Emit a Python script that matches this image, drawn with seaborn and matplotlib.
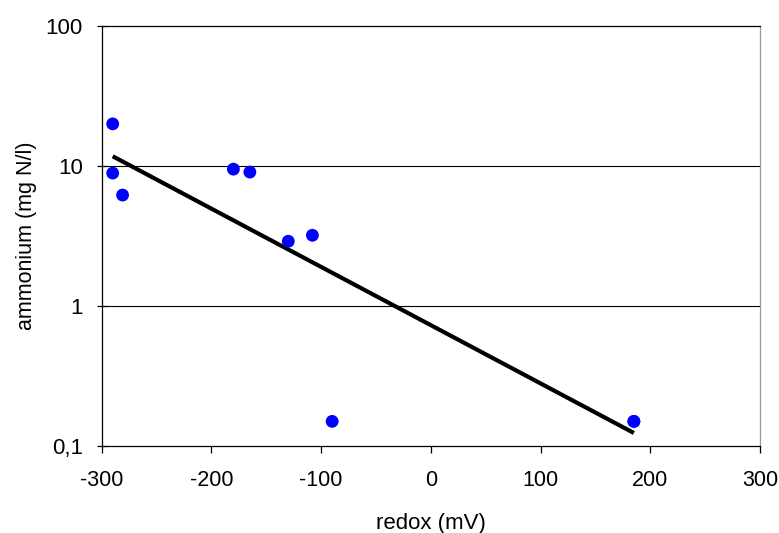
import numpy as np
import pandas as pd
import matplotlib
matplotlib.use("Agg")
import matplotlib.pyplot as plt
import seaborn as sns
from matplotlib.ticker import FixedLocator, FixedFormatter, NullLocator

# Data
redox_mv = [-290, -290, -281, -180, -165, -130, -108, -90, 185, 185]
ammonium_mg_n_l = [20.0, 8.9, 6.2, 9.5, 9.05, 2.9, 3.2, 0.15, 0.15, 0.15]

x_ticks = [-300, -200, -100, 0, 100, 200, 300]
x_tick_labels = ["-300", "-200", "-100", "0", "100", "200", "300"]
y_ticks = [0.1, 1, 10, 100]
y_tick_labels = ["0,1", "1", "10", "100"]

df = pd.DataFrame({"redox": redox_mv, "ammonium": ammonium_mg_n_l})

sns.set_theme(style="white")
plt.rcParams["font.family"] = ["Liberation Sans", "DejaVu Sans"]
plt.rcParams["text.color"] = "black"
plt.rcParams["axes.labelcolor"] = "black"
plt.rcParams["xtick.color"] = "black"
plt.rcParams["ytick.color"] = "black"

fig = plt.figure(figsize=(7.79, 5.33), dpi=100)
ax = fig.add_axes([0.1306, 0.1632, 0.8451, 0.7880])

# Exponential trendline (least squares on log values)
xs = np.asarray(redox_mv, dtype=float)
ly = np.log(np.asarray(ammonium_mg_n_l, dtype=float))
slope, intercept = np.polyfit(xs, ly, 1)
xl = np.array([xs.min(), xs.max()])
ax.plot(xl, np.exp(intercept + slope * xl), color="black", lw=3, zorder=3,
        solid_capstyle="butt")

sns.scatterplot(data=df, x="redox", y="ammonium", ax=ax, color="#0000FF",
                s=85, edgecolor="none", zorder=4, legend=False)

ax.set_yscale("log")
ax.set_xlim(-300, 300)
ax.set_ylim(0.1, 100)

ax.xaxis.set_major_locator(FixedLocator(x_ticks))
ax.xaxis.set_major_formatter(FixedFormatter(x_tick_labels))
ax.yaxis.set_major_locator(FixedLocator(y_ticks))
ax.yaxis.set_major_formatter(FixedFormatter(y_tick_labels))
ax.yaxis.set_minor_locator(NullLocator())

for yv in [1, 10]:
    ax.axhline(yv, color="black", lw=0.8, zorder=1)

for side in ["left", "bottom", "top"]:
    ax.spines[side].set_color("black")
    ax.spines[side].set_linewidth(0.9)
ax.spines["right"].set_color("#9a9a9a")
ax.spines["right"].set_linewidth(0.9)

ax.tick_params(axis="x", direction="out", length=5, width=0.9, color="black",
               labelcolor="black", labelsize=15.5, pad=12, bottom=True)
ax.tick_params(axis="y", direction="inout", length=7.2, width=0.9, color="black",
               labelcolor="black", labelsize=16, pad=10, left=True)

ax.set_xlabel("redox (mV)", fontsize=16, labelpad=16, color="black")
ax.set_ylabel("ammonium (mg N/l)", fontsize=15.5, labelpad=6, color="black")

fig.savefig("out.png", dpi=100)
